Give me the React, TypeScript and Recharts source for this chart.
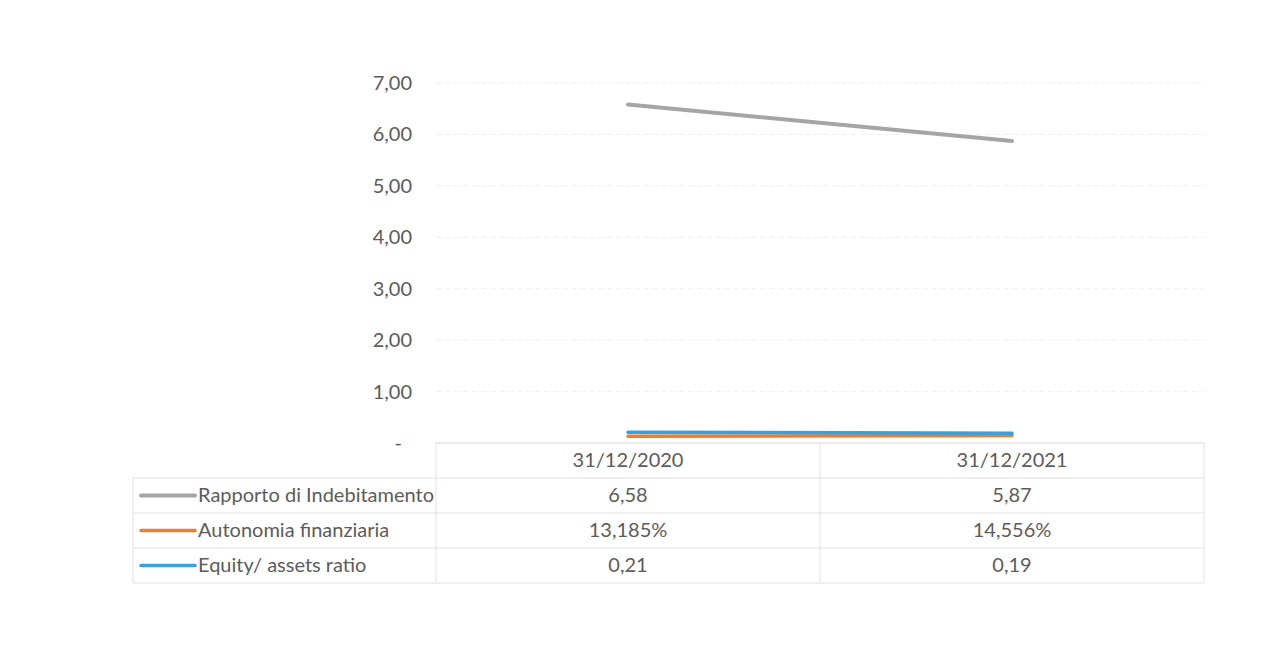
import { LineChart, Line, XAxis, YAxis, CartesianGrid } from "recharts";

const categories = ["31/12/2020", "31/12/2021"];
const rapportoIndebitamento = [6.58, 5.87];
const autonomiaFinanziaria = [13.185, 14.556]; // in percent
const equityAssetsRatio = [0.21, 0.19];
const yTicks = [0, 1, 2, 3, 4, 5, 6, 7];

const FONT = "Lato, 'Open Sans', sans-serif";
const FONT_SIZE = 20;
const TEXT = "#5c5c5c";
const BORDER = "#e2e2e2";

const W = 1266;
const H = 656;
const PLOT_LEFT = 428;
const PLOT_RIGHT = 1196;
const TABLE_LEFT = 125;
const ROW_H = 35;
const BAND = (PLOT_RIGHT - PLOT_LEFT) / categories.length;

const comma = (v: number, d: number) => v.toFixed(d).replace(".", ",");

const series = [
  {
    key: "rapporto",
    name: "Rapporto di Indebitamento",
    color: "#A5A5A5",
    width: 4,
    cell: (i: number) => comma(rapportoIndebitamento[i], 2),
  },
  {
    key: "autonomia",
    name: "Autonomia finanziaria",
    color: "#ED7D31",
    width: 3.5,
    cell: (i: number) => comma(autonomiaFinanziaria[i], 3) + "%",
  },
  {
    key: "equity",
    name: "Equity/ assets ratio",
    color: "#3B9FDB",
    width: 3.5,
    cell: (i: number) => comma(equityAssetsRatio[i], 2),
  },
];

const data = categories.map((cat, i) => ({
  cat,
  rapporto: rapportoIndebitamento[i],
  autonomia: autonomiaFinanziaria[i] / 100,
  equity: equityAssetsRatio[i],
}));

// y tick: zero is shown as a dash, a little in from the right edge
function ValueTick(props: any) {
  const { x, y, payload } = props;
  const v = payload.value as number;
  return (
    <text
      x={v === 0 ? x - 10 : x}
      y={y + 2}
      textAnchor="end"
      dominantBaseline="middle"
      fontFamily={FONT}
      fontSize={FONT_SIZE}
      fill={TEXT}
    >
      {v === 0 ? "-" : comma(v, 2)}
    </text>
  );
}

// x-axis tick that also draws its column of the data table
function TableTick(props: any) {
  const { x, y, payload, index } = props;
  const half = BAND / 2;
  const rows = series.length;
  const bottom = y + ROW_H * (rows + 1);
  return (
    <g fontFamily={FONT} fontSize={FONT_SIZE} fill={TEXT}>
      <line x1={x - half} x2={x - half} y1={y} y2={bottom} stroke={BORDER} />
      {index === categories.length - 1 && (
        <line x1={x + half} x2={x + half} y1={y} y2={bottom} stroke={BORDER} />
      )}
      <text x={x} y={y + ROW_H / 2 + 1} textAnchor="middle" dominantBaseline="middle">
        {payload.value}
      </text>
      {series.map((s, r) => {
        const top = y + ROW_H * (r + 1);
        return (
          <g key={s.key}>
            <line x1={x - half} x2={x + half} y1={top} y2={top} stroke={BORDER} />
            <text x={x} y={top + ROW_H / 2 + 1} textAnchor="middle" dominantBaseline="middle">
              {s.cell(index)}
            </text>
          </g>
        );
      })}
      <line x1={x - half} x2={x + half} y1={bottom} y2={bottom} stroke={BORDER} />
      {index === 0 && (
        <g>
          <line x1={TABLE_LEFT} x2={TABLE_LEFT} y1={y + ROW_H} y2={bottom} stroke={BORDER} />
          {series.map((s, r) => {
            const top = y + ROW_H * (r + 1);
            const mid = top + ROW_H / 2;
            return (
              <g key={s.key}>
                <line x1={TABLE_LEFT} x2={x - half} y1={top} y2={top} stroke={BORDER} />
                <line
                  x1={TABLE_LEFT + 8}
                  x2={TABLE_LEFT + 62}
                  y1={mid}
                  y2={mid}
                  stroke={s.color}
                  strokeWidth={s.width}
                  strokeLinecap="round"
                />
                <text x={TABLE_LEFT + 65} y={mid + 1} dominantBaseline="middle">
                  {s.name}
                </text>
              </g>
            );
          })}
          <line x1={TABLE_LEFT} x2={x - half} y1={bottom} y2={bottom} stroke={BORDER} />
        </g>
      )}
    </g>
  );
}

export default function App() {
  return (
    <div style={{ width: W, height: H, background: "#fff" }}>
      <LineChart
        width={W}
        height={H}
        data={data}
        margin={{ top: 75, right: W - PLOT_RIGHT, left: PLOT_LEFT - 80, bottom: 71 }}
      >
        <CartesianGrid vertical={false} stroke="#f0f0f0" strokeDasharray="6 3" />
        <XAxis
          dataKey="cat"
          scale="band"
          height={150}
          interval={0}
          tickSize={0}
          tickMargin={0}
          axisLine={{ stroke: "#dcdcdc" }}
          tick={<TableTick />}
        />
        <YAxis
          width={80}
          domain={[0, 7]}
          ticks={yTicks}
          axisLine={false}
          tickLine={false}
          tickSize={0}
          tickMargin={24}
          tick={<ValueTick />}
        />
        {series.map((s) => (
          <Line
            key={s.key}
            dataKey={s.key}
            name={s.name}
            stroke={s.color}
            strokeWidth={s.width}
            dot={false}
            activeDot={false}
            strokeLinecap="round"
            isAnimationActive={false}
          />
        ))}
      </LineChart>
    </div>
  );
}
